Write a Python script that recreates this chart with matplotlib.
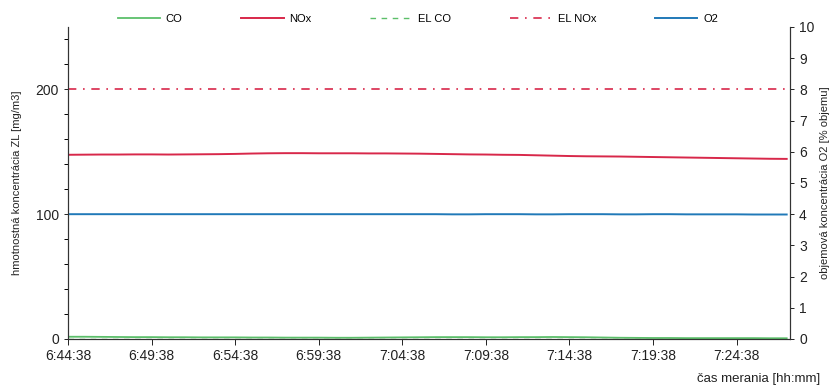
import matplotlib
matplotlib.use("Agg")
import matplotlib.pyplot as plt

# minutes after 6:44:38
minutes = list(range(0, 44))
nox = [147.6, 147.7, 147.8, 147.8, 147.9, 147.9, 147.8, 147.9, 148.0, 148.1,
       148.3, 148.6, 148.8, 148.9, 148.9, 148.8, 148.8, 148.8, 148.7, 148.7,
       148.6, 148.5, 148.3, 148.1, 147.9, 147.8, 147.6, 147.5, 147.2, 146.9,
       146.6, 146.4, 146.3, 146.2, 146.0, 145.8, 145.6, 145.4, 145.2, 145.0,
       144.8, 144.6, 144.4, 144.3]
co = [1.8, 1.8, 1.7, 1.6, 1.5, 1.5, 1.4, 1.4, 1.3, 1.3,
      1.3, 1.2, 1.2, 1.1, 1.1, 1.1, 1.0, 1.0, 1.1, 1.2,
      1.3, 1.4, 1.5, 1.5, 1.5, 1.4, 1.4, 1.5, 1.5, 1.6,
      1.5, 1.4, 1.2, 1.0, 0.9, 0.8, 0.8, 0.7, 0.7, 0.7,
      0.7, 0.7, 0.6, 0.6]
o2 = [4.0, 4.0, 4.0, 4.0, 4.0, 4.0, 4.0, 4.0, 4.0, 4.0,
      4.0, 4.0, 4.0, 4.0, 4.0, 4.0, 4.0, 4.0, 4.0, 4.0,
      4.0, 4.0, 4.0, 3.995, 3.995, 4.0, 4.0, 4.0, 3.995, 3.995,
      4.0, 4.0, 4.0, 3.995, 3.995, 4.0, 4.0, 3.995, 3.995, 3.995,
      3.995, 3.99, 3.99, 3.99]
el_co = 0.3
el_nox = 200

tick_pos = [0, 5, 10, 15, 20, 25, 30, 35, 40]
tick_labels = ["6:44:38", "6:49:38", "6:54:38", "6:59:38", "7:04:38",
               "7:09:38", "7:14:38", "7:19:38", "7:24:38"]

plt.rcParams['font.family'] = ['Liberation Sans', 'DejaVu Sans']

fig = plt.figure(figsize=(8.31, 3.9), dpi=100)
ax = fig.add_axes([0.0818, 0.1308, 0.8689, 0.80])
ax2 = ax.twinx()

green = "#5cbf6a"
red = "#d8284a"
blue = "#2079b8"

l_co, = ax.plot(minutes, co, color=green, lw=1.3, label="CO")
l_nox, = ax.plot(minutes, nox, color=red, lw=1.4, label="NOx")
l_elco = ax.axhline(el_co, color=green, lw=1.0, ls=(0, (4, 4)), label="EL CO")
l_elnox = ax.axhline(el_nox, color=red, lw=1.2, ls=(0, (5, 4, 1, 4)), label="EL NOx")
l_o2, = ax2.plot(minutes, o2, color=blue, lw=1.4, label="O2")

ax.set_xlim(0, 43.2)
ax.set_ylim(0, 250)
ax2.set_ylim(0, 10)
ax.set_yticks(range(0, 250, 20), minor=True)
ax.set_yticks([0, 100, 200])
ax2.set_yticks(range(0, 11))
ax.set_xticks(tick_pos)
ax.set_xticklabels(tick_labels)

for a in (ax, ax2):
    a.spines['top'].set_visible(False)
    for s in a.spines.values():
        s.set_color("#333333")
        s.set_linewidth(0.8)
    a.tick_params(labelsize=10, colors="#222222", length=3, width=0.7)
ax.tick_params(axis='y', which='minor', length=3, width=0.7)
ax.tick_params(axis='x', length=4)

ax.set_ylabel("hmotnostná koncentrácia ZL [mg/m3]", fontsize=8, color="#222222", labelpad=10)
ax2.set_ylabel("objemová koncentrácia O2 [% objemu]", fontsize=8, color="#222222")
fig.text(0.987, 0.02, "čas merania [hh:mm]", fontsize=9.5, ha="right", color="#222222")

fig.legend(handles=[l_co, l_nox, l_elco, l_elnox, l_o2], loc="center",
           bbox_to_anchor=(0.503, 0.952), ncol=5, frameon=False, fontsize=8,
           handlelength=3.8, columnspacing=5.3, handletextpad=0.5)

fig.savefig("out.png", dpi=100)
